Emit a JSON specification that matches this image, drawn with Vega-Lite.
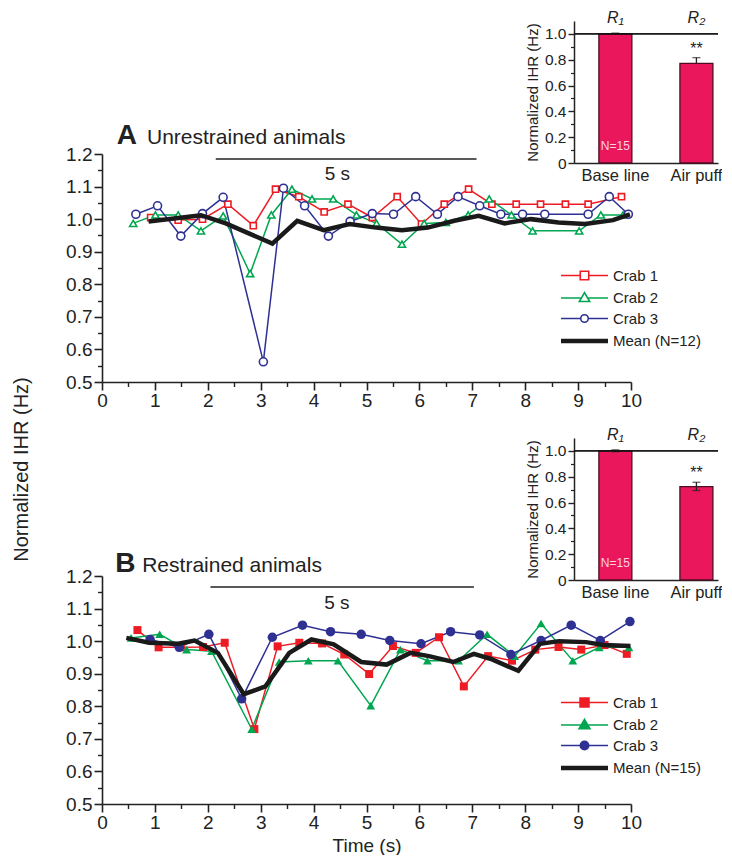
{
  "$schema": "https://vega.github.io/schema/vega-lite/v6.json",
  "background": "white",
  "padding": {"left": 11, "top": 9, "right": 0, "bottom": 0},
  "config": {
    "font": "Liberation Sans",
    "view": {"stroke": null},
    "axis": {"labelFont": "Liberation Sans", "titleFont": "Liberation Sans", "labelColor": "#222", "titleColor": "#222", "domainColor": "#222", "tickColor": "#222", "grid": false, "titleFontWeight": "normal"},
    "legend": {"labelFont": "Liberation Sans"},
    "title": {"font": "Liberation Sans", "subtitleFont": "Liberation Sans"}
  },
  "title": {"text": "Normalized IHR (Hz)", "orient": "left", "anchor": "middle", "fontSize": 20, "fontWeight": "normal", "color": "#222", "offset": 34, "dx": -37},
  "spacing": 16,
  "resolve": {"scale": {"color": "independent", "shape": "independent", "size": "independent"}, "legend": {"color": "independent"}},
  "vconcat": [
    {
      "spacing": -63,
      "align": "none",
      "resolve": {"legend": {"color": "independent"}},
      "vconcat": [
        {
          "spacing": 0,
          "hconcat": [
            {"width": 423, "height": 20, "data": {"values": [{}]}, "mark": {"type": "point", "opacity": 0}},
            {
              "width": 144, "height": 142,
              "data": {"name": "insetA"},
              "resolve": {"axis": {"y": "independent"}},
              "layer": [
                {"mark": {"type": "bar", "fill": "#ea175d", "stroke": "#4d0e22", "strokeWidth": 1.3},
                 "encoding": {
                   "x": {"field": "cond", "type": "nominal", "sort": ["Base line", "Air puff"], "scale": {"paddingInner": 0.593, "paddingOuter": 0.185, "align": 0.83}, "axis": {"orient": "bottom", "title": null, "labelAngle": 0, "labelFontSize": 16.5, "ticks": false, "labelPadding": 4, "domainWidth": 1.5}},
                   "y": {"field": "value", "type": "quantitative", "scale": {"domain": [0, 1.1], "nice": false}, "axis": {"orient": "left", "values": [0, 0.2, 0.4, 0.6, 0.8, 1], "labelExpr": "datum.value == 0 ? '0' : format(datum.value, '.1f')", "title": "Normalized IHR (Hz)", "titleFontSize": 15, "titlePadding": 4, "labelFontSize": 15.5, "tickSize": 6, "tickWidth": 1.4, "domainWidth": 1.5}}
                 }},
                {"mark": {"type": "rule", "color": "#222", "strokeWidth": 1.3},
                 "encoding": {"x": {"field": "cond", "type": "nominal", "sort": ["Base line", "Air puff"]}, "y": {"field": "lo", "type": "quantitative", "axis": null}, "y2": {"field": "hi"}}},
                {"mark": {"type": "tick", "color": "#222", "thickness": 1.3, "size": 8},
                 "encoding": {"x": {"field": "cond", "type": "nominal", "sort": ["Base line", "Air puff"]}, "y": {"field": "hi", "type": "quantitative", "axis": null}}},
                {"mark": {"type": "rule", "color": "#111", "strokeWidth": 1.3},
                 "encoding": {"y": {"datum": 1, "type": "quantitative", "axis": {"orient": "left", "values": [0.1, 0.3, 0.5, 0.7, 0.9], "labels": false, "domain": false, "tickSize": 3.5, "tickWidth": 1.2, "title": null}}}},
                {"mark": {"type": "text", "fontSize": 16, "fontStyle": "italic", "baseline": "alphabetic", "color": "#222"},
                 "encoding": {"x": {"field": "cond", "type": "nominal", "sort": ["Base line", "Air puff"]}, "y": {"datum": 1.085, "type": "quantitative", "axis": null}, "text": {"field": "r"}}},
                {"mark": {"type": "text", "fontSize": 16, "baseline": "alphabetic", "dy": -4, "color": "#222"},
                 "encoding": {"x": {"field": "cond", "type": "nominal", "sort": ["Base line", "Air puff"]}, "y": {"field": "hi", "type": "quantitative", "axis": null}, "text": {"field": "sig"}}},
                {"mark": {"type": "text", "fontSize": 12, "baseline": "middle", "color": "#ffd0e0"},
                 "encoding": {"x": {"field": "cond", "type": "nominal", "sort": ["Base line", "Air puff"]}, "y": {"datum": 0.13, "type": "quantitative", "axis": null}, "text": {"field": "n"}}}
              ]
            }
          ]
        },
        {
          "width": 529, "height": 228,
          "data": {"name": "A"},
          "resolve": {"axis": {"x": "independent", "y": "independent"}},
          "layer": [
            {
              "transform": [{"filter": "datum.series !== 'Mean (N=12)'"}],
              "mark": {"type": "line", "strokeWidth": 1.5},
              "encoding": {
                "x": {"field": "t", "type": "quantitative", "scale": {"domain": [0, 10], "nice": false, "zero": false}, "axis": {"orient": "bottom", "values": [0, 1, 2, 3, 4, 5, 6, 7, 8, 9, 10], "format": "d", "title": null, "tickSize": 8, "labelFontSize": 19, "labelPadding": 1, "labelFlush": false, "labelOverlap": false, "domainWidth": 1.6, "tickWidth": 1.6}},
                "y": {"field": "v", "type": "quantitative", "scale": {"domain": [0.5, 1.2], "nice": false, "zero": false}, "axis": {"orient": "left", "values": [0.5, 0.6, 0.7, 0.8, 0.9, 1, 1.1, 1.2], "format": ".1f", "title": null, "tickSize": 8, "labelFontSize": 19, "labelPadding": 2, "labelFlush": false, "labelOverlap": false, "domainWidth": 1.6, "tickWidth": 1.6}},
                "color": {"field": "series", "type": "nominal", "scale": {"domain": ["Crab 1", "Crab 2", "Crab 3", "Mean (N=12)"], "range": ["#ed1c24", "#00a650", "#2e3192", "#1a1a1a"]},
                  "legend": {"orient": "none", "legendX": 475, "legendY": 114, "title": null, "symbolSize": 2209, "labelFontSize": 15, "labelColor": "#222", "labelOffset": 21, "rowPadding": 4.5,
                    "symbolType": {"expr": "datum.value === 'Crab 1' ? 'M-1,0H-0.18M0.18,0H1M-0.18,-0.18H0.18V0.18H-0.18Z' : datum.value === 'Crab 2' ? 'M-1,0H-0.133M0.133,0H1M0,-0.23L0.22,0.15H-0.22Z' : datum.value === 'Crab 3' ? 'M-1,0H-0.16M0.16,0H1M-0.16,0A0.16,0.16,0,1,1,0.16,0A0.16,0.16,0,1,1,-0.16,0Z' : 'M-1,0H1'"},
                    "symbolStrokeWidth": {"expr": "datum.value === 'Mean (N=12)' ? 4.5 : 1.6"},
                    "symbolFillColor": "white",
                    "symbolOpacity": 1}}
              }
            },
            {
              "transform": [{"filter": "datum.series !== 'Mean (N=12)'"}],
              "mark": {"type": "point", "filled": false, "fill": "white", "fillOpacity": 1, "opacity": 1, "strokeWidth": 1.6},
              "encoding": {
                "x": {"field": "t", "type": "quantitative", "axis": null},
                "y": {"field": "v", "type": "quantitative", "axis": null},
                "color": {"field": "series", "type": "nominal", "legend": null},
                "shape": {"field": "series", "type": "nominal", "scale": {"domain": ["Crab 1", "Crab 2", "Crab 3"], "range": ["square", "triangle-up", "circle"]}, "legend": null},
                "size": {"field": "series", "type": "nominal", "scale": {"domain": ["Crab 1", "Crab 2", "Crab 3"], "range": [38, 64, 38]}, "legend": null}
              }
            },
            {
              "transform": [{"filter": "datum.series === 'Mean (N=12)'"}],
              "mark": {"type": "line", "strokeWidth": 4.5},
              "encoding": {
                "x": {"field": "t", "type": "quantitative", "axis": {"orient": "bottom", "values": [0.5, 1.5, 2.5, 3.5, 4.5, 5.5, 6.5, 7.5, 8.5, 9.5], "labels": false, "domain": false, "tickSize": 4.5, "tickWidth": 1.4, "title": null}},
                "y": {"field": "v", "type": "quantitative", "axis": {"orient": "left", "values": [0.55, 0.65, 0.75, 0.85, 0.95, 1.05, 1.15], "labels": false, "domain": false, "tickSize": 4.5, "tickWidth": 1.4, "title": null}},
                "color": {"field": "series", "type": "nominal", "legend": null}
              }
            },
            {
              "data": {"values": [{}]},
              "mark": {"type": "rule", "color": "#222", "strokeWidth": 1.5},
              "encoding": {"x": {"datum": 2.15, "type": "quantitative", "axis": null}, "x2": {"datum": 7.08}, "y": {"datum": 1.185, "type": "quantitative", "axis": null}}
            },
            {
              "data": {"values": [{}]},
              "mark": {"type": "text", "fontSize": 19, "color": "#222", "text": "5 s", "baseline": "middle"},
              "encoding": {"x": {"datum": 4.45, "type": "quantitative", "axis": null}, "y": {"datum": 1.14, "type": "quantitative", "axis": null}}
            },
            {
              "data": {"values": [{}]},
              "mark": {"type": "text", "fontSize": 28, "fontWeight": "bold", "color": "#222", "text": "A", "align": "left", "baseline": "alphabetic"},
              "encoding": {"x": {"datum": 0.28, "type": "quantitative", "axis": null}, "y": {"datum": 1.231, "type": "quantitative", "axis": null}}
            },
            {
              "data": {"values": [{}]},
              "mark": {"type": "text", "fontSize": 21, "color": "#222", "text": "Unrestrained animals", "align": "left", "baseline": "alphabetic"},
              "encoding": {"x": {"datum": 0.85, "type": "quantitative", "axis": null}, "y": {"datum": 1.231, "type": "quantitative", "axis": null}}
            }
          ]
        }
      ]
    },
    {
      "spacing": -52,
      "align": "none",
      "resolve": {"legend": {"color": "independent"}},
      "vconcat": [
        {
          "spacing": 0,
          "hconcat": [
            {"width": 423, "height": 20, "data": {"values": [{}]}, "mark": {"type": "point", "opacity": 0}},
            {
              "width": 144, "height": 142,
              "data": {"name": "insetB"},
              "resolve": {"axis": {"y": "independent"}},
              "layer": [
                {"mark": {"type": "bar", "fill": "#ea175d", "stroke": "#4d0e22", "strokeWidth": 1.3},
                 "encoding": {
                   "x": {"field": "cond", "type": "nominal", "sort": ["Base line", "Air puff"], "scale": {"paddingInner": 0.593, "paddingOuter": 0.185, "align": 0.83}, "axis": {"orient": "bottom", "title": null, "labelAngle": 0, "labelFontSize": 16.5, "ticks": false, "labelPadding": 4, "domainWidth": 1.5}},
                   "y": {"field": "value", "type": "quantitative", "scale": {"domain": [0, 1.1], "nice": false}, "axis": {"orient": "left", "values": [0, 0.2, 0.4, 0.6, 0.8, 1], "labelExpr": "datum.value == 0 ? '0' : format(datum.value, '.1f')", "title": "Normalized IHR (Hz)", "titleFontSize": 15, "titlePadding": 4, "labelFontSize": 15.5, "tickSize": 6, "tickWidth": 1.4, "domainWidth": 1.5}}
                 }},
                {"mark": {"type": "rule", "color": "#222", "strokeWidth": 1.3},
                 "encoding": {"x": {"field": "cond", "type": "nominal", "sort": ["Base line", "Air puff"]}, "y": {"field": "lo", "type": "quantitative", "axis": null}, "y2": {"field": "hi"}}},
                {"mark": {"type": "tick", "color": "#222", "thickness": 1.3, "size": 8},
                 "encoding": {"x": {"field": "cond", "type": "nominal", "sort": ["Base line", "Air puff"]}, "y": {"field": "hi", "type": "quantitative", "axis": null}}},
                {"mark": {"type": "tick", "color": "#222", "thickness": 1.3, "size": 8},
                 "encoding": {"x": {"field": "cond", "type": "nominal", "sort": ["Base line", "Air puff"]}, "y": {"field": "lo", "type": "quantitative", "axis": null}}},
                {"mark": {"type": "rule", "color": "#111", "strokeWidth": 1.3},
                 "encoding": {"y": {"datum": 1, "type": "quantitative", "axis": {"orient": "left", "values": [0.1, 0.3, 0.5, 0.7, 0.9], "labels": false, "domain": false, "tickSize": 3.5, "tickWidth": 1.2, "title": null}}}},
                {"mark": {"type": "text", "fontSize": 16, "fontStyle": "italic", "baseline": "alphabetic", "color": "#222"},
                 "encoding": {"x": {"field": "cond", "type": "nominal", "sort": ["Base line", "Air puff"]}, "y": {"datum": 1.085, "type": "quantitative", "axis": null}, "text": {"field": "r"}}},
                {"mark": {"type": "text", "fontSize": 16, "baseline": "alphabetic", "dy": -4, "color": "#222"},
                 "encoding": {"x": {"field": "cond", "type": "nominal", "sort": ["Base line", "Air puff"]}, "y": {"field": "hi", "type": "quantitative", "axis": null}, "text": {"field": "sig"}}},
                {"mark": {"type": "text", "fontSize": 12, "baseline": "middle", "color": "#ffd0e0"},
                 "encoding": {"x": {"field": "cond", "type": "nominal", "sort": ["Base line", "Air puff"]}, "y": {"datum": 0.13, "type": "quantitative", "axis": null}, "text": {"field": "n"}}}
              ]
            }
          ]
        },
        {
          "width": 529, "height": 228,
          "data": {"name": "B"},
          "resolve": {"axis": {"x": "independent", "y": "independent"}},
          "layer": [
            {
              "transform": [{"filter": "datum.series !== 'Mean (N=15)'"}],
              "mark": {"type": "line", "strokeWidth": 1.5},
              "encoding": {
                "x": {"field": "t", "type": "quantitative", "scale": {"domain": [0, 10], "nice": false, "zero": false}, "axis": {"orient": "bottom", "values": [0, 1, 2, 3, 4, 5, 6, 7, 8, 9, 10], "format": "d", "title": "Time (s)", "titleFontSize": 19, "titlePadding": 4, "tickSize": 8, "labelFontSize": 19, "labelPadding": 1, "labelFlush": false, "labelOverlap": false, "domainWidth": 1.6, "tickWidth": 1.6}},
                "y": {"field": "v", "type": "quantitative", "scale": {"domain": [0.5, 1.2], "nice": false, "zero": false}, "axis": {"orient": "left", "values": [0.5, 0.6, 0.7, 0.8, 0.9, 1, 1.1, 1.2], "format": ".1f", "title": null, "tickSize": 8, "labelFontSize": 19, "labelPadding": 2, "labelFlush": false, "labelOverlap": false, "domainWidth": 1.6, "tickWidth": 1.6}},
                "color": {"field": "series", "type": "nominal", "scale": {"domain": ["Crab 1", "Crab 2", "Crab 3", "Mean (N=15)"], "range": ["#ed1c24", "#00a650", "#2e3192", "#1a1a1a"]},
                  "legend": {"orient": "none", "legendX": 475, "legendY": 119, "title": null, "symbolSize": 2209, "labelFontSize": 15, "labelColor": "#222", "labelOffset": 21, "rowPadding": 4.5,
                    "symbolType": {"expr": "datum.value === 'Crab 1' ? 'M-1,0H-0.19M0.19,0H1M-0.19,-0.19H0.19V0.19H-0.19Z' : datum.value === 'Crab 2' ? 'M-1,0H-0.14M0.14,0H1M0,-0.24L0.23,0.16H-0.23Z' : datum.value === 'Crab 3' ? 'M-1,0H-0.18M0.18,0H1M-0.18,0A0.18,0.18,0,1,1,0.18,0A0.18,0.18,0,1,1,-0.18,0Z' : 'M-1,0H1'"},
                    "symbolStrokeWidth": {"expr": "datum.value === 'Mean (N=15)' ? 4.5 : 1.6"},
                    "symbolFillColor": {"expr": "datum.value === 'Crab 1' ? '#ed1c24' : datum.value === 'Crab 2' ? '#00a650' : datum.value === 'Crab 3' ? '#2e3192' : 'transparent'"},
                    "symbolOpacity": 1}}
              }
            },
            {
              "transform": [{"filter": "datum.series !== 'Mean (N=15)'"}],
              "mark": {"type": "point", "filled": true, "opacity": 1, "strokeWidth": 0},
              "encoding": {
                "x": {"field": "t", "type": "quantitative", "axis": null},
                "y": {"field": "v", "type": "quantitative", "axis": null},
                "color": {"field": "series", "type": "nominal", "legend": null},
                "shape": {"field": "series", "type": "nominal", "scale": {"domain": ["Crab 1", "Crab 2", "Crab 3"], "range": ["square", "triangle-up", "circle"]}, "legend": null},
                "size": {"field": "series", "type": "nominal", "scale": {"domain": ["Crab 1", "Crab 2", "Crab 3"], "range": [64, 90, 70]}, "legend": null}
              }
            },
            {
              "transform": [{"filter": "datum.series === 'Mean (N=15)'"}],
              "mark": {"type": "line", "strokeWidth": 4.5},
              "encoding": {
                "x": {"field": "t", "type": "quantitative", "axis": {"orient": "bottom", "values": [0.5, 1.5, 2.5, 3.5, 4.5, 5.5, 6.5, 7.5, 8.5, 9.5], "labels": false, "domain": false, "tickSize": 4.5, "tickWidth": 1.4, "title": null}},
                "y": {"field": "v", "type": "quantitative", "axis": {"orient": "left", "values": [0.55, 0.65, 0.75, 0.85, 0.95, 1.05, 1.15], "labels": false, "domain": false, "tickSize": 4.5, "tickWidth": 1.4, "title": null}},
                "color": {"field": "series", "type": "nominal", "legend": null}
              }
            },
            {
              "data": {"values": [{}]},
              "mark": {"type": "rule", "color": "#222", "strokeWidth": 1.5},
              "encoding": {"x": {"datum": 2.05, "type": "quantitative", "axis": null}, "x2": {"datum": 7.03}, "y": {"datum": 1.166, "type": "quantitative", "axis": null}}
            },
            {
              "data": {"values": [{}]},
              "mark": {"type": "text", "fontSize": 19, "color": "#222", "text": "5 s", "baseline": "middle"},
              "encoding": {"x": {"datum": 4.44, "type": "quantitative", "axis": null}, "y": {"datum": 1.116, "type": "quantitative", "axis": null}}
            },
            {
              "data": {"values": [{}]},
              "mark": {"type": "text", "fontSize": 28, "fontWeight": "bold", "color": "#222", "text": "B", "align": "left", "baseline": "alphabetic"},
              "encoding": {"x": {"datum": 0.25, "type": "quantitative", "axis": null}, "y": {"datum": 1.2125, "type": "quantitative", "axis": null}}
            },
            {
              "data": {"values": [{}]},
              "mark": {"type": "text", "fontSize": 21, "color": "#222", "text": "Restrained animals", "align": "left", "baseline": "alphabetic"},
              "encoding": {"x": {"datum": 0.76, "type": "quantitative", "axis": null}, "y": {"datum": 1.2125, "type": "quantitative", "axis": null}}
            }
          ]
        }
      ]
    }
  ],
  "datasets": {
    "insetA": [
      {"cond": "Base line", "value": 1.0, "lo": 0.995, "hi": 1.006, "r": "R₁", "sig": "", "n": "N=15"},
      {"cond": "Air puff", "value": 0.772, "lo": 0.772, "hi": 0.816, "r": "R₂", "sig": "**", "n": ""}
    ],
    "insetB": [
      {"cond": "Base line", "value": 1.0, "lo": 0.994, "hi": 1.008, "r": "R₁", "sig": "", "n": "N=15"},
      {"cond": "Air puff", "value": 0.724, "lo": 0.693, "hi": 0.757, "r": "R₂", "sig": "**", "n": ""}
    ],
    "A": [
      {"series": "Crab 1", "t": 0.92, "v": 1.005}, {"series": "Crab 1", "t": 1.44, "v": 0.997}, {"series": "Crab 1", "t": 1.9, "v": 1.0}, {"series": "Crab 1", "t": 2.38, "v": 1.046}, {"series": "Crab 1", "t": 2.86, "v": 0.98}, {"series": "Crab 1", "t": 3.28, "v": 1.092}, {"series": "Crab 1", "t": 3.72, "v": 1.069}, {"series": "Crab 1", "t": 4.2, "v": 1.022}, {"series": "Crab 1", "t": 4.65, "v": 1.046}, {"series": "Crab 1", "t": 5.11, "v": 1.005}, {"series": "Crab 1", "t": 5.58, "v": 1.069}, {"series": "Crab 1", "t": 6.04, "v": 0.985}, {"series": "Crab 1", "t": 6.47, "v": 1.046}, {"series": "Crab 1", "t": 6.93, "v": 1.092}, {"series": "Crab 1", "t": 7.37, "v": 1.046}, {"series": "Crab 1", "t": 7.83, "v": 1.046}, {"series": "Crab 1", "t": 8.29, "v": 1.046}, {"series": "Crab 1", "t": 8.76, "v": 1.046}, {"series": "Crab 1", "t": 9.19, "v": 1.046}, {"series": "Crab 1", "t": 9.82, "v": 1.069},
      {"series": "Crab 2", "t": 0.59, "v": 0.987}, {"series": "Crab 2", "t": 1.01, "v": 1.013}, {"series": "Crab 2", "t": 1.44, "v": 1.013}, {"series": "Crab 2", "t": 1.87, "v": 0.964}, {"series": "Crab 2", "t": 2.29, "v": 1.01}, {"series": "Crab 2", "t": 2.8, "v": 0.833}, {"series": "Crab 2", "t": 3.2, "v": 1.013}, {"series": "Crab 2", "t": 3.59, "v": 1.092}, {"series": "Crab 2", "t": 3.97, "v": 1.062}, {"series": "Crab 2", "t": 4.37, "v": 1.062}, {"series": "Crab 2", "t": 4.81, "v": 1.013}, {"series": "Crab 2", "t": 5.19, "v": 0.987}, {"series": "Crab 2", "t": 5.67, "v": 0.923}, {"series": "Crab 2", "t": 6.09, "v": 0.987}, {"series": "Crab 2", "t": 6.5, "v": 0.99}, {"series": "Crab 2", "t": 6.92, "v": 1.013}, {"series": "Crab 2", "t": 7.32, "v": 1.062}, {"series": "Crab 2", "t": 7.74, "v": 1.013}, {"series": "Crab 2", "t": 8.14, "v": 0.964}, {"series": "Crab 2", "t": 9.02, "v": 0.964}, {"series": "Crab 2", "t": 9.43, "v": 1.013}, {"series": "Crab 2", "t": 9.85, "v": 1.013},
      {"series": "Crab 3", "t": 0.64, "v": 1.015}, {"series": "Crab 3", "t": 1.05, "v": 1.041}, {"series": "Crab 3", "t": 1.49, "v": 0.948}, {"series": "Crab 3", "t": 1.9, "v": 1.017}, {"series": "Crab 3", "t": 2.29, "v": 1.067}, {"series": "Crab 3", "t": 3.05, "v": 0.562}, {"series": "Crab 3", "t": 3.43, "v": 1.095}, {"series": "Crab 3", "t": 3.83, "v": 1.041}, {"series": "Crab 3", "t": 4.28, "v": 0.948}, {"series": "Crab 3", "t": 4.69, "v": 0.993}, {"series": "Crab 3", "t": 5.11, "v": 1.017}, {"series": "Crab 3", "t": 5.51, "v": 1.015}, {"series": "Crab 3", "t": 5.93, "v": 1.069}, {"series": "Crab 3", "t": 6.34, "v": 1.015}, {"series": "Crab 3", "t": 6.73, "v": 1.069}, {"series": "Crab 3", "t": 7.14, "v": 1.041}, {"series": "Crab 3", "t": 7.54, "v": 1.015}, {"series": "Crab 3", "t": 7.95, "v": 1.015}, {"series": "Crab 3", "t": 8.37, "v": 1.015}, {"series": "Crab 3", "t": 9.19, "v": 1.015}, {"series": "Crab 3", "t": 9.59, "v": 1.069}, {"series": "Crab 3", "t": 9.95, "v": 1.015},
      {"series": "Mean (N=12)", "t": 0.88, "v": 0.993}, {"series": "Mean (N=12)", "t": 1.87, "v": 1.012}, {"series": "Mean (N=12)", "t": 2.34, "v": 0.987}, {"series": "Mean (N=12)", "t": 3.22, "v": 0.925}, {"series": "Mean (N=12)", "t": 3.69, "v": 0.995}, {"series": "Mean (N=12)", "t": 4.19, "v": 0.966}, {"series": "Mean (N=12)", "t": 4.68, "v": 0.985}, {"series": "Mean (N=12)", "t": 5.18, "v": 0.974}, {"series": "Mean (N=12)", "t": 5.67, "v": 0.966}, {"series": "Mean (N=12)", "t": 6.16, "v": 0.974}, {"series": "Mean (N=12)", "t": 6.66, "v": 0.995}, {"series": "Mean (N=12)", "t": 7.12, "v": 1.01}, {"series": "Mean (N=12)", "t": 7.61, "v": 0.987}, {"series": "Mean (N=12)", "t": 8.11, "v": 1.0}, {"series": "Mean (N=12)", "t": 8.63, "v": 0.99}, {"series": "Mean (N=12)", "t": 9.13, "v": 0.985}, {"series": "Mean (N=12)", "t": 9.66, "v": 0.997}, {"series": "Mean (N=12)", "t": 9.98, "v": 1.015}
    ],
    "B": [
      {"series": "Crab 1", "t": 0.67, "v": 1.034}, {"series": "Crab 1", "t": 1.07, "v": 0.981}, {"series": "Crab 1", "t": 1.49, "v": 0.981}, {"series": "Crab 1", "t": 1.91, "v": 0.982}, {"series": "Crab 1", "t": 2.32, "v": 0.995}, {"series": "Crab 1", "t": 2.88, "v": 0.73}, {"series": "Crab 1", "t": 3.32, "v": 0.984}, {"series": "Crab 1", "t": 3.73, "v": 0.995}, {"series": "Crab 1", "t": 4.16, "v": 0.993}, {"series": "Crab 1", "t": 4.58, "v": 0.959}, {"series": "Crab 1", "t": 5.05, "v": 0.899}, {"series": "Crab 1", "t": 5.5, "v": 0.985}, {"series": "Crab 1", "t": 5.93, "v": 0.964}, {"series": "Crab 1", "t": 6.37, "v": 1.012}, {"series": "Crab 1", "t": 6.84, "v": 0.861}, {"series": "Crab 1", "t": 7.3, "v": 0.954}, {"series": "Crab 1", "t": 7.75, "v": 0.94}, {"series": "Crab 1", "t": 8.19, "v": 0.974}, {"series": "Crab 1", "t": 8.63, "v": 0.982}, {"series": "Crab 1", "t": 9.06, "v": 0.974}, {"series": "Crab 1", "t": 9.5, "v": 0.988}, {"series": "Crab 1", "t": 9.92, "v": 0.961},
      {"series": "Crab 2", "t": 0.55, "v": 1.01}, {"series": "Crab 2", "t": 1.09, "v": 1.021}, {"series": "Crab 2", "t": 1.6, "v": 0.974}, {"series": "Crab 2", "t": 2.07, "v": 0.969}, {"series": "Crab 2", "t": 2.83, "v": 0.73}, {"series": "Crab 2", "t": 3.35, "v": 0.936}, {"series": "Crab 2", "t": 3.9, "v": 0.94}, {"series": "Crab 2", "t": 4.46, "v": 0.94}, {"series": "Crab 2", "t": 5.08, "v": 0.802}, {"series": "Crab 2", "t": 5.64, "v": 0.974}, {"series": "Crab 2", "t": 6.15, "v": 0.94}, {"series": "Crab 2", "t": 6.74, "v": 0.94}, {"series": "Crab 2", "t": 7.28, "v": 1.021}, {"series": "Crab 2", "t": 7.8, "v": 0.954}, {"series": "Crab 2", "t": 8.3, "v": 1.054}, {"series": "Crab 2", "t": 8.9, "v": 0.94}, {"series": "Crab 2", "t": 9.4, "v": 0.981}, {"series": "Crab 2", "t": 9.96, "v": 0.981},
      {"series": "Crab 3", "t": 0.91, "v": 1.005}, {"series": "Crab 3", "t": 1.46, "v": 0.981}, {"series": "Crab 3", "t": 2.02, "v": 1.021}, {"series": "Crab 3", "t": 2.64, "v": 0.823}, {"series": "Crab 3", "t": 3.22, "v": 1.012}, {"series": "Crab 3", "t": 3.79, "v": 1.049}, {"series": "Crab 3", "t": 4.32, "v": 1.029}, {"series": "Crab 3", "t": 4.9, "v": 1.021}, {"series": "Crab 3", "t": 5.44, "v": 1.002}, {"series": "Crab 3", "t": 6.03, "v": 0.992}, {"series": "Crab 3", "t": 6.59, "v": 1.029}, {"series": "Crab 3", "t": 7.14, "v": 1.019}, {"series": "Crab 3", "t": 7.73, "v": 0.959}, {"series": "Crab 3", "t": 8.3, "v": 1.002}, {"series": "Crab 3", "t": 8.87, "v": 1.049}, {"series": "Crab 3", "t": 9.42, "v": 1.002}, {"series": "Crab 3", "t": 9.98, "v": 1.06},
      {"series": "Mean (N=15)", "t": 0.46, "v": 1.01}, {"series": "Mean (N=15)", "t": 0.89, "v": 0.995}, {"series": "Mean (N=15)", "t": 1.44, "v": 0.992}, {"series": "Mean (N=15)", "t": 1.75, "v": 1.002}, {"series": "Mean (N=15)", "t": 2.19, "v": 0.964}, {"series": "Mean (N=15)", "t": 2.68, "v": 0.837}, {"series": "Mean (N=15)", "t": 3.09, "v": 0.861}, {"series": "Mean (N=15)", "t": 3.54, "v": 0.964}, {"series": "Mean (N=15)", "t": 3.96, "v": 1.005}, {"series": "Mean (N=15)", "t": 4.38, "v": 0.99}, {"series": "Mean (N=15)", "t": 4.9, "v": 0.936}, {"series": "Mean (N=15)", "t": 5.38, "v": 0.928}, {"series": "Mean (N=15)", "t": 5.83, "v": 0.964}, {"series": "Mean (N=15)", "t": 6.18, "v": 0.954}, {"series": "Mean (N=15)", "t": 6.64, "v": 0.936}, {"series": "Mean (N=15)", "t": 7.03, "v": 0.961}, {"series": "Mean (N=15)", "t": 7.34, "v": 0.946}, {"series": "Mean (N=15)", "t": 7.87, "v": 0.909}, {"series": "Mean (N=15)", "t": 8.28, "v": 0.992}, {"series": "Mean (N=15)", "t": 8.64, "v": 1.0}, {"series": "Mean (N=15)", "t": 9.15, "v": 0.997}, {"series": "Mean (N=15)", "t": 9.48, "v": 0.988}, {"series": "Mean (N=15)", "t": 9.99, "v": 0.985}
    ]
  }
}
